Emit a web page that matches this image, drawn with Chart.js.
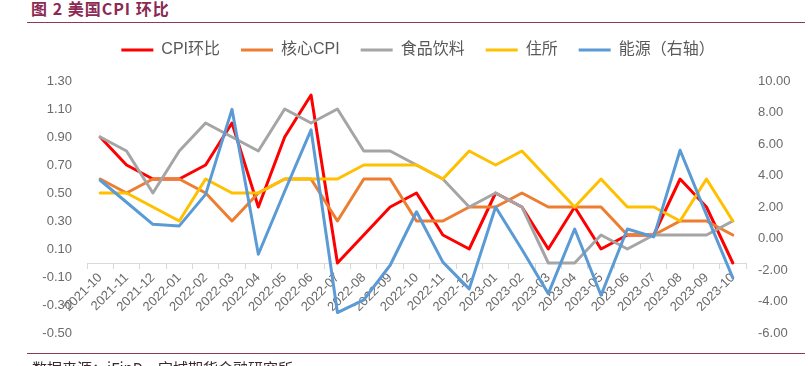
<!DOCTYPE html>
<html>
<head>
<meta charset="utf-8">
<script src="https://cdn.jsdelivr.net/npm/chart.js@4/dist/chart.umd.min.js"></script>
<style>
  html, body { margin:0; padding:0; background:#fff; }
  body { width:808px; height:366px; overflow:hidden; position:relative; }
  #c { position:absolute; left:0; top:0; }
  #title { position:absolute; left:31px; top:0px; font-family:"Noto Sans CJK SC", sans-serif; font-weight:bold; font-size:16px; line-height:17px; letter-spacing:1px; color:#8B2A52; white-space:nowrap; }
  #topline { position:absolute; left:27px; top:22px; width:778px; height:1px; background:#8E3A5E; }
  #botline { position:absolute; left:27px; top:353px; width:778px; height:1px; background:#8E3A5E; }
  #src { position:absolute; left:32px; top:359px; font-family:"Noto Sans CJK SC", sans-serif; font-size:15px; line-height:18px; color:#3a2a30; white-space:nowrap; }
</style>
</head>
<body>
<div id="title">图 2 美国CPI 环比</div>
<div id="topline"></div>
<canvas id="c" width="808" height="366"></canvas>
<div id="botline"></div>
<div id="src">数据来源：iFinD，宝城期货金融研究所</div>
<script>
const months = ['2021-10','2021-11','2021-12','2022-01','2022-02','2022-03','2022-04','2022-05','2022-06','2022-07','2022-08','2022-09','2022-10','2022-11','2022-12','2023-01','2023-02','2023-03','2023-04','2023-05','2023-06','2023-07','2023-08','2023-09','2023-10'];
const cpiMoM   = [0.9,0.7,0.6,0.6,0.7,1.0,0.4,0.9,1.2,0.0,0.2,0.4,0.5,0.2,0.1,0.5,0.4,0.1,0.4,0.1,0.2,0.2,0.6,0.4,0.0];
const coreCpi  = [0.6,0.5,0.6,0.6,0.5,0.3,0.5,0.6,0.6,0.3,0.6,0.6,0.3,0.3,0.4,0.4,0.5,0.4,0.4,0.4,0.2,0.2,0.3,0.3,0.2];
const foodBev  = [0.9,0.8,0.5,0.8,1.0,0.9,0.8,1.1,1.0,1.1,0.8,0.8,0.7,0.6,0.4,0.5,0.4,0.0,0.0,0.2,0.1,0.2,0.2,0.2,0.3];
const shelter  = [0.5,0.5,0.4,0.3,0.6,0.5,0.5,0.6,0.6,0.6,0.7,0.7,0.7,0.6,0.8,0.7,0.8,0.6,0.4,0.6,0.4,0.4,0.3,0.6,0.3];
const energy   = [3.7,2.3,0.9,0.8,2.8,8.2,-1.0,3.0,6.9,-4.7,-3.9,-1.7,1.7,-1.5,-3.2,2.0,-0.7,-3.5,0.6,-3.6,0.6,0.1,5.6,1.5,-2.5];
const leftTicks  = [-0.5,-0.3,-0.1,0.1,0.3,0.5,0.7,0.9,1.1,1.3];
const rightTicks = [-6,-4,-2,0,2,4,6,8,10];
const seriesNames = ['CPI环比','核心CPI','食品饮料','住所','能源（右轴）'];

const tickColor = '#6b6b6b';
const latin = "'Liberation Sans', 'Noto Sans CJK SC', sans-serif";

function ds(label, data, color, axis, order) {
  return { label, data, borderColor: color, backgroundColor: color, yAxisID: axis,
    borderWidth: 3, pointRadius: 0, pointHoverRadius: 0, tension: 0, fill: false,
    borderJoinStyle: 'round', borderCapStyle: 'round', order };
}

const legendSpacer = {
  id: 'legendSpacer',
  beforeLayout(chart) {
    const lg = chart.legend;
    if (lg && !lg._patched) {
      const orig = lg.fit;
      lg.fit = function() { orig.call(this); if (this.options.display) this.height += 13; };
      lg._patched = true;
    }
  }
};

new Chart(document.getElementById('c'), {
  type: 'line',
  data: {
    labels: months,
    datasets: [
      ds(seriesNames[0], cpiMoM, '#FF0000', 'y', 5),
      ds(seriesNames[1], coreCpi, '#ED7D31', 'y', 4),
      ds(seriesNames[2], foodBev, '#A5A5A5', 'y', 3),
      ds(seriesNames[3], shelter, '#FFC000', 'y', 2),
      ds(seriesNames[4], energy, '#5B9BD5', 'y1', 1)
    ]
  },
  plugins: [legendSpacer],
  options: {
    responsive: false,
    devicePixelRatio: 1,
    animation: false,
    layout: { padding: { left: 28, right: 0, top: 21, bottom: 33 } },
    plugins: {
      tooltip: { enabled: false },
      legend: {
        display: true,
        position: 'top',
        labels: {
          usePointStyle: true,
          pointStyle: 'line',
          pointStyleWidth: 32,
          boxHeight: 16,
          padding: 21,
          color: '#595959',
          font: { size: 16, family: latin },
          sort: (a, b) => a.datasetIndex - b.datasetIndex
        }
      }
    },
    scales: {
      x: {
        type: 'category',
        position: { y: 0 },
        offset: true,
        grid: { display: true, offset: true, drawOnChartArea: false, drawTicks: true, tickLength: 5, color: '#D9D9D9' },
        border: { display: true, color: '#D9D9D9', width: 1 },
        ticks: { autoSkip: false, maxRotation: 45, minRotation: 45, padding: 2, color: tickColor, font: { size: 13, family: latin } }
      },
      y: {
        position: 'left',
        min: -0.5, max: 1.3,
        afterBuildTicks: s => { s.ticks = leftTicks.map(v => ({ value: v })); },
        afterFit: s => { s.width = 59; },
        grid: { display: false, drawTicks: false },
        border: { display: false },
        ticks: { padding: 15, color: tickColor, font: { size: 13, family: latin }, callback: v => Number(v).toFixed(2) }
      },
      y1: {
        position: 'right',
        min: -6, max: 10,
        afterBuildTicks: s => { s.ticks = rightTicks.map(v => ({ value: v })); },
        afterFit: s => { s.width = 62; },
        grid: { display: false, drawTicks: false },
        border: { display: false },
        ticks: { padding: 12, color: tickColor, font: { size: 13, family: latin }, callback: v => Number(v).toFixed(2) }
      }
    }
  }
});
</script>
</body>
</html>
